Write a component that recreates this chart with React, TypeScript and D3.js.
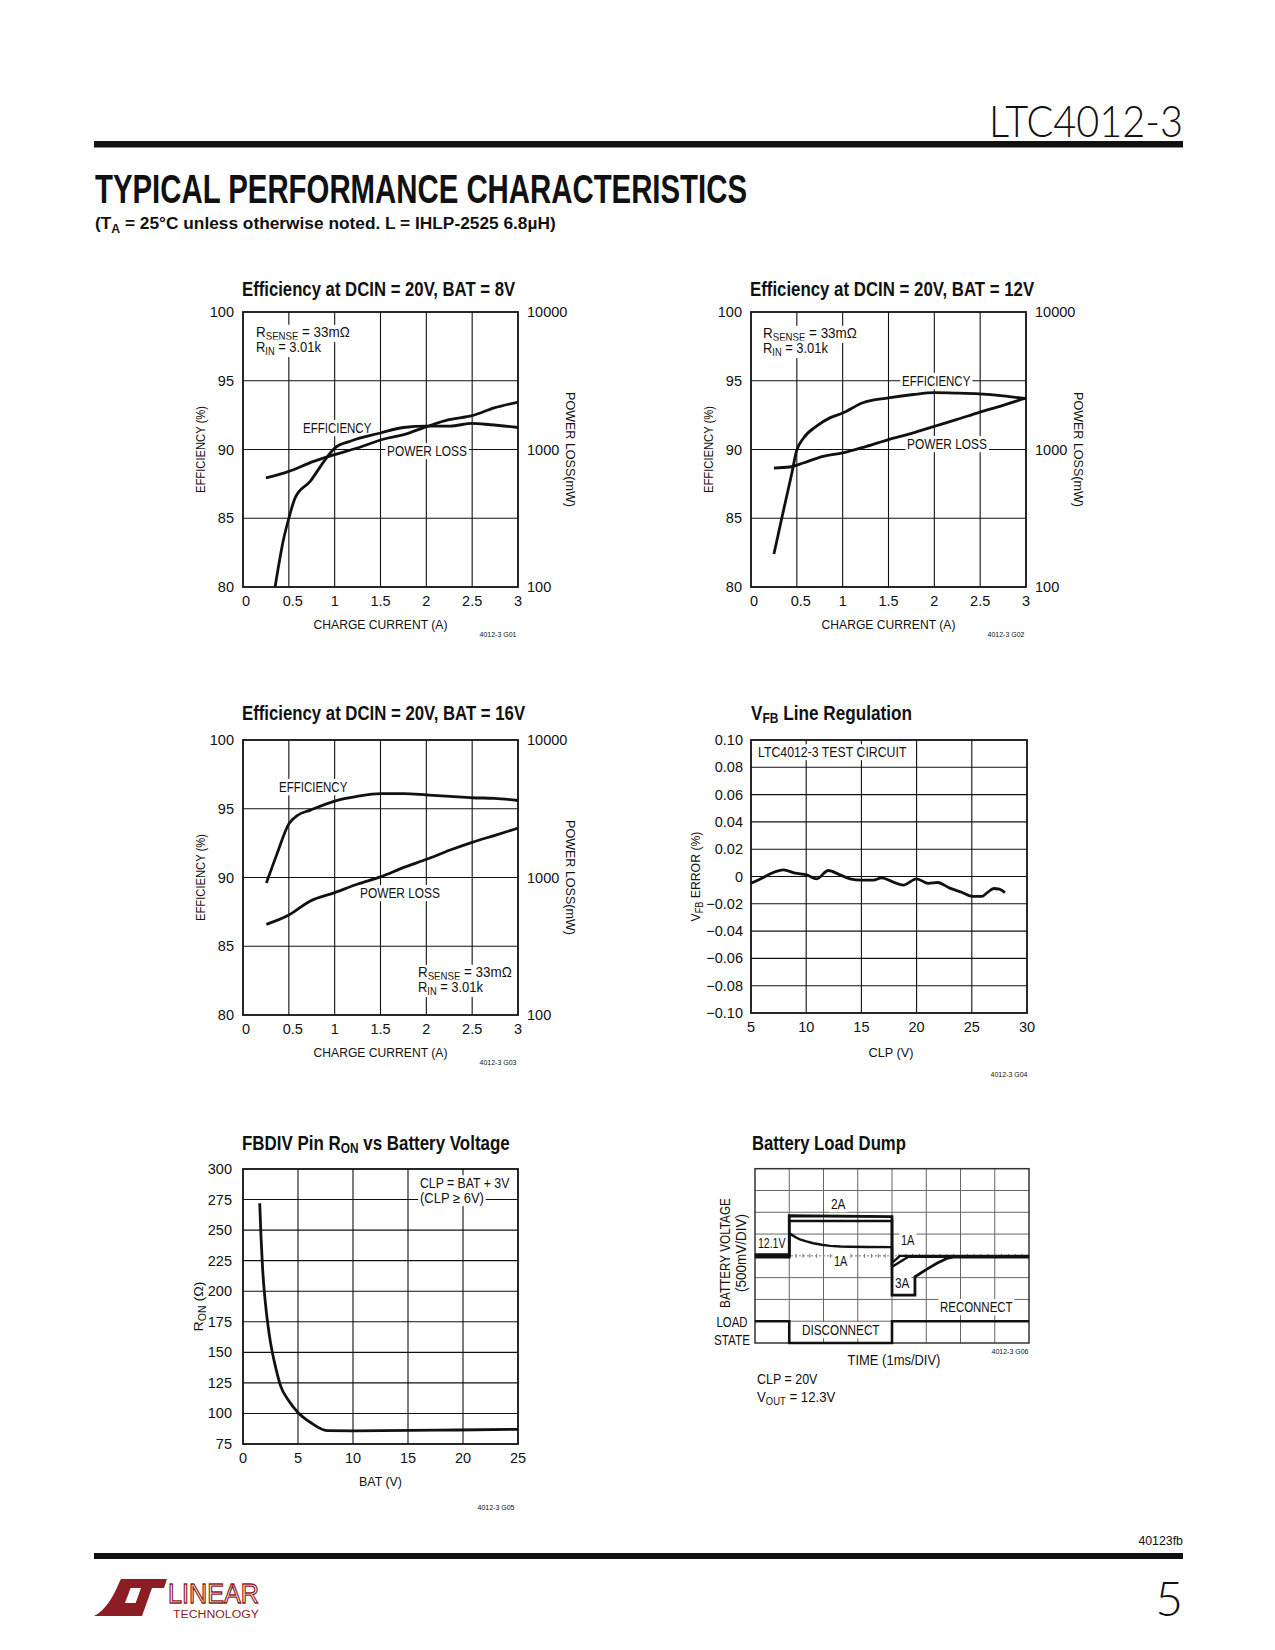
import { useEffect, useRef } from "react";
import * as d3 from "d3";

const FONT = "'Liberation Sans', Arial, Helvetica, sans-serif";
const INK = "#111";

// shared axes of the three efficiency charts
const CUR_TICKS = [0, 0.5, 1, 1.5, 2, 2.5, 3];
const EFF_TICKS = [80, 85, 90, 95, 100];
const LOSS_TICKS = [100, 1000, 10000];

// BAT = 8V
const EFF8_I = [0.35, 0.44, 0.5, 0.57, 0.735, 0.88, 1.0, 1.17, 1.5, 1.75, 2.0, 2.26, 2.5, 2.7, 3.0];
const EFF8 = [80, 83.4, 85.0, 86.5, 87.7, 89.1, 90.1, 90.6, 91.2, 91.6, 91.7, 91.7, 91.9, 91.8, 91.6];
const LOSS8_I = [0.25, 0.5, 0.77, 1.0, 1.245, 1.54, 1.755, 2.01, 2.246, 2.5, 2.74, 3.0];
const LOSS8 = [621, 693, 820, 917, 1025, 1192, 1282, 1473, 1647, 1762, 2005, 2214];

// BAT = 12V
const EFF12_I = [0.25, 0.352, 0.443, 0.497, 0.57, 0.715, 0.86, 1.0, 1.22, 1.5, 1.77, 2.0, 2.24, 2.49, 2.75, 3.0];
const EFF12 = [82.4, 85.5, 88.2, 89.9, 90.8, 91.7, 92.3, 92.65, 93.4, 93.75, 94.0, 94.13, 94.1, 94.04, 93.9, 93.7];
const LOSS12_I = [0.25, 0.42, 0.57, 0.787, 1.0, 1.26, 1.5, 1.77, 2.0, 2.24, 2.49, 2.75, 3.0];
const LOSS12 = [733, 746, 798, 892, 944, 1055, 1180, 1320, 1473, 1647, 1862, 2095, 2371];

// BAT = 16V
const EFF16_I = [0.255, 0.37, 0.5, 0.59, 0.735, 1.0, 1.245, 1.5, 1.755, 2.01, 2.26, 2.5, 2.74, 3.0];
const EFF16 = [89.6, 91.7, 93.9, 94.5, 94.9, 95.56, 95.9, 96.1, 96.1, 96.0, 95.9, 95.8, 95.76, 95.6];
const LOSS16_I = [0.255, 0.5, 0.735, 1.0, 1.245, 1.5, 1.755, 2.01, 2.26, 2.5, 2.74, 3.0];
const LOSS16 = [456, 533, 675, 776, 893, 1011, 1184, 1362, 1585, 1803, 2018, 2285];

// VFB line regulation
const CLP_TICKS = [5, 10, 15, 20, 25, 30];
const VFB_TICKS = [0.1, 0.08, 0.06, 0.04, 0.02, 0, -0.02, -0.04, -0.06, -0.08, -0.1];
const VFB_TICK_LABELS = ["0.10", "0.08", "0.06", "0.04", "0.02", "0", "\u22120.02", "\u22120.04", "\u22120.06", "\u22120.08", "\u22120.10"];
const CLP_V = [5, 5.8, 6.87, 7.93, 9.0, 10.04, 10.95, 12.0, 13.06, 13.97, 15.0, 16.08, 16.83, 17.9, 18.8, 20.0, 21.06, 21.9, 23.0, 24.08, 25.1, 25.9, 26.4, 27.0, 27.5, 28.0];
const VFB_ERR = [-0.0049, -0.002, 0.0024, 0.0049, 0.0024, 0.0012, -0.0017, 0.0044, 0.0012, -0.0017, -0.0027, -0.0027, -0.001, -0.0041, -0.0063, -0.0017, -0.0051, -0.0044, -0.0085, -0.0115, -0.0146, -0.0146, -0.0118, -0.0088, -0.0093, -0.0118];

// FBDIV RON
const BAT_TICKS = [0, 5, 10, 15, 20, 25];
const RON_TICKS = [75, 100, 125, 150, 175, 200, 225, 250, 275, 300];
const BAT_V = [1.52, 1.64, 1.79, 2.04, 2.43, 3.04, 3.4, 4.16, 5.0, 6.14, 7.66, 10.03, 17.7, 25];
const RON = [272, 244, 217, 190, 162, 135, 123, 110.4, 100.8, 92.6, 86, 85.8, 86.3, 87];

// battery load dump (time in ms, volts)
const DUMP_T1 = [0, 1, 1, 1.1, 1.2, 1.31, 1.5, 1.7, 1.95, 2.19, 2.5, 2.77, 3.3, 4, 4, 4.23, 8];
const DUMP_V1 = [12.13, 12.13, 12.62, 12.57, 12.52, 12.48, 12.43, 12.39, 12.355, 12.33, 12.315, 12.31, 12.302, 12.3, 11.94, 12.1, 12.1];
const DUMP_T2 = [0, 1, 1, 4, 4, 4.48, 8];
const DUMP_V2 = [12.1, 12.1, 12.9, 12.9, 11.85, 12.08, 12.08];
const DUMP_T3 = [0, 1, 1, 4, 4, 4.67, 4.67, 5.01, 5.31, 5.6, 5.79, 8];
const DUMP_V3 = [12.07, 12.07, 13.02, 13.0, 11.2, 11.2, 11.62, 11.79, 11.93, 12.04, 12.07, 12.07];
const LOAD_T = [0, 1, 1, 4, 4, 8];
const LOAD_S = [1, 1, 0, 0, 1, 1];

const OHM = "\u03a9";

function Sub({ a, s, b, size = 10 }: { a: string; s: string; b: string; size?: number }) {
  return (
    <>
      {a}
      <tspan fontSize={size} dy={3}>{s}</tspan>
      <tspan dy={-3}>{b}</tspan>
    </>
  );
}

type EffProps = {
  ox: number;
  oy: number;
  titleY: number;
  titleW: number;
  title: string;
  code: string;
  effI: number[];
  eff: number[];
  lossI: number[];
  loss: number[];
  effLbl: [number, number];
  lossLbl: [number, number];
  note: [number, number];
};

function EffChart(p: EffProps) {
  const w = 275, h = 275;
  const x = d3.scaleLinear().domain([0, 3]).range([p.ox, p.ox + w]);
  const y = d3.scaleLinear().domain([80, 100]).range([p.oy + h, p.oy]);
  const yR = d3.scaleLog().domain([100, 10000]).range([p.oy + h, p.oy]);
  const effPath = d3.line<number>().x((_, i) => x(p.effI[i])).y((d) => y(d)).curve(d3.curveMonotoneX)(p.eff);
  const lossPath = d3.line<number>().x((_, i) => x(p.lossI[i])).y((d) => yR(d)).curve(d3.curveMonotoneX)(p.loss);
  return (
    <g>
      <text x={p.ox - 1} y={p.titleY} fontSize={20} fontWeight="bold" data-w={p.titleW}>{p.title}</text>
      {CUR_TICKS.slice(1, -1).map((t) => (
        <line key={"v" + t} x1={x(t)} x2={x(t)} y1={p.oy} y2={p.oy + h} stroke={INK} strokeWidth={1.1} />
      ))}
      {EFF_TICKS.slice(1, -1).map((t) => (
        <line key={"h" + t} x1={p.ox} x2={p.ox + w} y1={y(t)} y2={y(t)} stroke={INK} strokeWidth={1.1} />
      ))}
      <g fontSize={14}>
        <text className="bg" data-w={69} x={p.ox + p.effLbl[0]} y={p.oy + p.effLbl[1]}>EFFICIENCY</text>
        <text className="bg" data-w={80} x={p.ox + p.lossLbl[0]} y={p.oy + p.lossLbl[1]}>POWER LOSS</text>
        <text className="bg" data-w={94} x={p.ox + p.note[0]} y={p.oy + p.note[1]}>
          <Sub a="R" s="SENSE" b={" = 33m" + OHM} />
        </text>
        <text className="bg" data-w={66} x={p.ox + p.note[0]} y={p.oy + p.note[1] + 15}>
          <Sub a="R" s="IN" b=" = 3.01k" />
        </text>
      </g>
      <rect x={p.ox} y={p.oy} width={w} height={h} fill="none" stroke={INK} strokeWidth={1.8} />
      <path d={effPath ?? ""} fill="none" stroke={INK} strokeWidth={2.8} />
      <path d={lossPath ?? ""} fill="none" stroke={INK} strokeWidth={2.8} />
      <g fontSize={14.5}>
        {EFF_TICKS.map((t) => (
          <text key={"yl" + t} x={p.ox - 9} y={y(t) + 5} textAnchor="end">{t}</text>
        ))}
        {LOSS_TICKS.map((t) => (
          <text key={"yr" + t} x={p.ox + w + 9} y={yR(t) + 5}>{t}</text>
        ))}
        {CUR_TICKS.map((t) => (
          <text key={"xl" + t} x={x(t) + (t === 0 ? 3 : t === 0.5 ? 4 : 0)} y={p.oy + h + 19} textAnchor="middle">{t}</text>
        ))}
      </g>
      <g fontSize={13.5}>
        <text data-w={87} transform={`translate(${p.ox - 38},${p.oy + h / 2}) rotate(-90)`} textAnchor="middle">EFFICIENCY (%)</text>
        <text data-w={115} transform={`translate(${p.ox + w + 48},${p.oy + h / 2}) rotate(90)`} textAnchor="middle">POWER LOSS(mW)</text>
        <text data-w={134} x={p.ox + w / 2} y={p.oy + h + 42} textAnchor="middle">CHARGE CURRENT (A)</text>
      </g>
      <text x={p.ox + w - 20} y={p.oy + h + 50} fontSize={7} textAnchor="middle">{p.code}</text>
    </g>
  );
}

function VfbChart() {
  const ox = 751, oy = 740, w = 276, h = 273;
  const x = d3.scaleLinear().domain([5, 30]).range([ox, ox + w]);
  const y = d3.scaleLinear().domain([-0.1, 0.1]).range([oy + h, oy]);
  const path = d3.line<number>().x((_, i) => x(CLP_V[i])).y((d) => y(d)).curve(d3.curveMonotoneX)(VFB_ERR);
  return (
    <g>
      <text x={ox} y={oy - 20} fontSize={20} fontWeight="bold" data-w={161}>
        <Sub a="V" s="FB" b=" Line Regulation" size={14} />
      </text>
      {CLP_TICKS.slice(1, -1).map((t) => (
        <line key={"v" + t} x1={x(t)} x2={x(t)} y1={oy} y2={oy + h} stroke={INK} strokeWidth={1.1} />
      ))}
      {VFB_TICKS.slice(1, -1).map((t) => (
        <line key={"h" + t} x1={ox} x2={ox + w} y1={y(t)} y2={y(t)} stroke={INK} strokeWidth={1.1} />
      ))}
      <text className="bg" data-w={149} x={ox + 7} y={oy + 17} fontSize={14}>LTC4012-3 TEST CIRCUIT</text>
      <rect x={ox} y={oy} width={w} height={h} fill="none" stroke={INK} strokeWidth={1.8} />
      <path d={path ?? ""} fill="none" stroke={INK} strokeWidth={2.8} />
      <g fontSize={14.5}>
        {VFB_TICKS.map((t, i) => (
          <text key={"yl" + i} x={ox - 8} y={y(t) + 5} textAnchor="end">{VFB_TICK_LABELS[i]}</text>
        ))}
        {CLP_TICKS.map((t) => (
          <text key={"xl" + t} x={x(t)} y={oy + h + 19} textAnchor="middle">{t}</text>
        ))}
      </g>
      <g fontSize={13.5}>
        <text data-w={90} transform={`translate(${ox - 51},${oy + h / 2}) rotate(-90)`} textAnchor="middle">
          <Sub a="V" s="FB" b=" ERROR (%)" />
        </text>
        <text data-w={45} x={ox + w / 2 + 2} y={oy + h + 44} textAnchor="middle">CLP (V)</text>
      </g>
      <text x={ox + w - 18} y={oy + h + 64} fontSize={7} textAnchor="middle">4012-3 G04</text>
    </g>
  );
}

function RonChart() {
  const ox = 243, oy = 1169, w = 275, h = 275;
  const x = d3.scaleLinear().domain([0, 25]).range([ox, ox + w]);
  const y = d3.scaleLinear().domain([75, 300]).range([oy + h, oy]);
  const path = d3.line<number>().x((_, i) => x(BAT_V[i])).y((d) => y(d)).curve(d3.curveMonotoneX)(RON);
  return (
    <g>
      <text x={ox - 1} y={oy - 19} fontSize={20} fontWeight="bold" data-w={268}>
        <Sub a="FBDIV Pin R" s="ON" b=" vs Battery Voltage" size={14} />
      </text>
      {BAT_TICKS.slice(1, -1).map((t) => (
        <line key={"v" + t} x1={x(t)} x2={x(t)} y1={oy} y2={oy + h} stroke={INK} strokeWidth={1.1} />
      ))}
      {RON_TICKS.slice(1, -1).map((t) => (
        <line key={"h" + t} x1={ox} x2={ox + w} y1={y(t)} y2={y(t)} stroke={INK} strokeWidth={1.1} />
      ))}
      <g fontSize={14}>
        <text className="bg" data-w={90} x={ox + 177} y={oy + 19}>CLP = BAT + 3V</text>
        <text className="bg" data-w={64} x={ox + 177} y={oy + 34}>(CLP {"\u2265"} 6V)</text>
      </g>
      <rect x={ox} y={oy} width={w} height={h} fill="none" stroke={INK} strokeWidth={1.8} />
      <path d={path ?? ""} fill="none" stroke={INK} strokeWidth={2.8} />
      <g fontSize={14.5}>
        {RON_TICKS.map((t) => (
          <text key={"yl" + t} x={ox - 11} y={y(t) + 5} textAnchor="end">{t}</text>
        ))}
        {BAT_TICKS.map((t) => (
          <text key={"xl" + t} x={x(t)} y={oy + h + 19} textAnchor="middle">{t}</text>
        ))}
      </g>
      <g fontSize={13.5}>
        <text data-w={50} transform={`translate(${ox - 40},${oy + h / 2}) rotate(-90)`} textAnchor="middle">
          <Sub a="R" s="ON" b={" (" + OHM + ")"} />
        </text>
        <text data-w={43} x={ox + w / 2} y={oy + h + 42} textAnchor="middle">BAT (V)</text>
      </g>
      <text x={ox + w - 22} y={oy + h + 66} fontSize={7} textAnchor="middle">4012-3 G05</text>
    </g>
  );
}

function DumpChart() {
  const ox = 755, oy = 1168.7, w = 274, h = 174.3;
  const tx = d3.scaleLinear().domain([0, 8]).range([ox, ox + w]);
  const vy = d3.scaleLinear().domain([10.1, 14.1]).range([oy + h, oy]);
  const ly = d3.scaleLinear().domain([0, 1]).range([oy + h, vy(10.6)]);
  const div = d3.range(1, 8);
  const trace = (t: number[], v: number[]) =>
    d3.line<number>().x((_, i) => tx(t[i])).y((d) => vy(d))(v) ?? "";
  const load = d3.line<number>().x((_, i) => tx(LOAD_T[i])).y((d) => ly(d))(LOAD_S) ?? "";
  const minor = d3.range(0, 40).map((k) => k * 0.2);
  return (
    <g>
      <text x={ox - 3} y={oy - 19} fontSize={20} fontWeight="bold" data-w={154}>Battery Load Dump</text>
      {div.map((k) => (
        <line key={"v" + k} x1={tx(k)} x2={tx(k)} y1={oy} y2={oy + h} stroke="#666" strokeWidth={1} />
      ))}
      {div.filter((k) => k !== 4).map((k) => (
        <line key={"h" + k} x1={ox} x2={ox + w} y1={oy + (k * h) / 8} y2={oy + (k * h) / 8} stroke="#666" strokeWidth={1} />
      ))}
      <line x1={ox} x2={ox + w} y1={vy(12.1)} y2={vy(12.1)} stroke="#777" strokeWidth={1} strokeDasharray="2,2" />
      {minor.map((m) => (
        <line key={"m" + m} x1={tx(m)} x2={tx(m)} y1={vy(12.1) - 2} y2={vy(12.1) + 2} stroke="#777" strokeWidth={1} />
      ))}
      <g fontSize={14}>
        <text className="bg" data-w={15} x={831} y={1209}>2A</text>
        <text className="bg" data-w={28} x={758} y={1248}>12.1V</text>
        <text className="bg" data-w={14} x={834} y={1266}>1A</text>
        <text className="bg" data-w={14} x={901} y={1245}>1A</text>
        <text className="bg" data-w={15} x={895} y={1288}>3A</text>
        <text className="bg" data-w={73} x={940} y={1312}>RECONNECT</text>
        <text className="bg" data-w={78} x={802} y={1335}>DISCONNECT</text>
      </g>
      <rect x={ox} y={oy} width={w} height={h} fill="none" stroke="#333" strokeWidth={1.5} />
      <path d={trace(DUMP_T2, DUMP_V2)} fill="none" stroke={INK} strokeWidth={2.4} />
      <path d={trace(DUMP_T3, DUMP_V3)} fill="none" stroke={INK} strokeWidth={2.8} />
      <path d={trace(DUMP_T1, DUMP_V1)} fill="none" stroke={INK} strokeWidth={2.4} />
      <path d={load} fill="none" stroke={INK} strokeWidth={2.6} />
      <g fontSize={14}>
        <text data-w={31} x={732} y={1327} textAnchor="middle">LOAD</text>
        <text data-w={36} x={732} y={1345} textAnchor="middle">STATE</text>
        <text data-w={110} transform={`translate(730,1253) rotate(-90)`} textAnchor="middle">BATTERY VOLTAGE</text>
        <text data-w={78} transform={`translate(746,1253) rotate(-90)`} textAnchor="middle">(500mV/DIV)</text>
        <text data-w={93} x={894} y={1365} textAnchor="middle">TIME (1ms/DIV)</text>
        <text data-w={61} x={757} y={1384}>CLP = 20V</text>
        <text data-w={79} x={757} y={1402}>
          <Sub a="V" s="OUT" b=" = 12.3V" />
        </text>
      </g>
      <text x={1010} y={1354} fontSize={7} textAnchor="middle">4012-3 G06</text>
    </g>
  );
}

function Logo() {
  const red = "#8c1d24";
  return (
    <g fill={red}>
      <path d="M94,1616 C106,1610 113,1597 119,1583 L121,1579 L134,1579 L125,1603 L140,1603 L135,1616 Z" />
      <path d="M130,1579 L167,1579 L164,1588 L152,1588 L142,1616 L131,1616 L141,1588 L127,1588 Z" />
      <text x={168} y={1603} fontSize={28} textLength={91} lengthAdjust="spacingAndGlyphs" fill="none" stroke={red} strokeWidth={1.3}>LINEAR</text>
      <text x={173} y={1618} fontSize={10} textLength={86} lengthAdjust="spacingAndGlyphs">TECHNOLOGY</text>
    </g>
  );
}

export default function App() {
  const ref = useRef<SVGSVGElement>(null);

  useEffect(() => {
    const svg = ref.current;
    if (!svg) return;
    // squeeze texts to the widths (condensed face)
    svg.querySelectorAll<SVGTextElement>("text[data-w]").forEach((t) => {
      if (t.getAttribute("data-fit")) return;
      t.setAttribute("data-fit", "1");
      const target = Number(t.getAttribute("data-w"));
      const b = t.getBBox();
      if (!b.width) return;
      const sx = target / b.width;
      const px = Number(t.getAttribute("x") ?? 0);
      const prev = t.getAttribute("transform") ?? "";
      t.setAttribute("transform", `${prev} translate(${px},0) scale(${sx},1) translate(${-px},0)`);
    });
    // white boxes behind labels that sit on the grid
    svg.querySelectorAll<SVGTextElement>("text.bg").forEach((t) => {
      if (t.getAttribute("data-bg")) return;
      t.setAttribute("data-bg", "1");
      const b = t.getBBox();
      const r = document.createElementNS("http://www.w3.org/2000/svg", "rect");
      r.setAttribute("x", String(b.x - 2));
      r.setAttribute("y", String(b.y));
      r.setAttribute("width", String(b.width + 4));
      r.setAttribute("height", String(b.height));
      r.setAttribute("fill", "white");
      const tr = t.getAttribute("transform");
      if (tr) r.setAttribute("transform", tr);
      t.parentNode?.insertBefore(r, t);
    });
  }, []);

  return (
    <div style={{ position: "absolute", left: 0, top: 0 }}>
      <svg ref={ref} width={1275} height={1650} fontFamily={FONT} fill={INK} style={{ display: "block", background: "white" }}>
        <text x={1183} y={137} textAnchor="end" fontFamily="Lato, 'Liberation Sans', sans-serif" fontWeight={300} fontSize={44} textLength={194} lengthAdjust="spacingAndGlyphs">LTC4012-3</text>
        <rect x={94} y={141} width={1089} height={6.5} fill={INK} />
        <text x={95} y={203} fontSize={40} fontWeight="bold" textLength={652} lengthAdjust="spacingAndGlyphs">TYPICAL PERFORMANCE CHARACTERISTICS</text>
        <text x={95} y={229} fontSize={17} fontWeight="bold" data-w={461}>
          (T<tspan fontSize={12} dy={4}>A</tspan>
          <tspan dy={-4}> = 25°C unless otherwise noted. L = IHLP-2525 6.8µH)</tspan>
        </text>

        <EffChart ox={243} oy={312} titleY={296} titleW={274} title="Efficiency at DCIN = 20V, BAT = 8V" code="4012-3 G01"
          effI={EFF8_I} eff={EFF8} lossI={LOSS8_I} loss={LOSS8}
          effLbl={[60, 121]} lossLbl={[144, 144]} note={[13, 25]} />
        <EffChart ox={751} oy={312} titleY={296} titleW={285} title="Efficiency at DCIN = 20V, BAT = 12V" code="4012-3 G02"
          effI={EFF12_I} eff={EFF12} lossI={LOSS12_I} loss={LOSS12}
          effLbl={[151, 74]} lossLbl={[156, 137]} note={[12, 26]} />
        <EffChart ox={243} oy={740} titleY={720} titleW={284} title="Efficiency at DCIN = 20V, BAT = 16V" code="4012-3 G03"
          effI={EFF16_I} eff={EFF16} lossI={LOSS16_I} loss={LOSS16}
          effLbl={[36, 52]} lossLbl={[117, 158]} note={[175, 237]} />
        <VfbChart />
        <RonChart />
        <DumpChart />

        <text x={1183} y={1545} textAnchor="end" fontSize={12} data-w={45}>40123fb</text>
        <rect x={94} y={1553} width={1089} height={6} fill={INK} />
        <text x={1183} y={1616} textAnchor="end" fontFamily="Lato, 'Liberation Sans', sans-serif" fontWeight={300} fontSize={48}>5</text>
        <Logo />
      </svg>
    </div>
  );
}
